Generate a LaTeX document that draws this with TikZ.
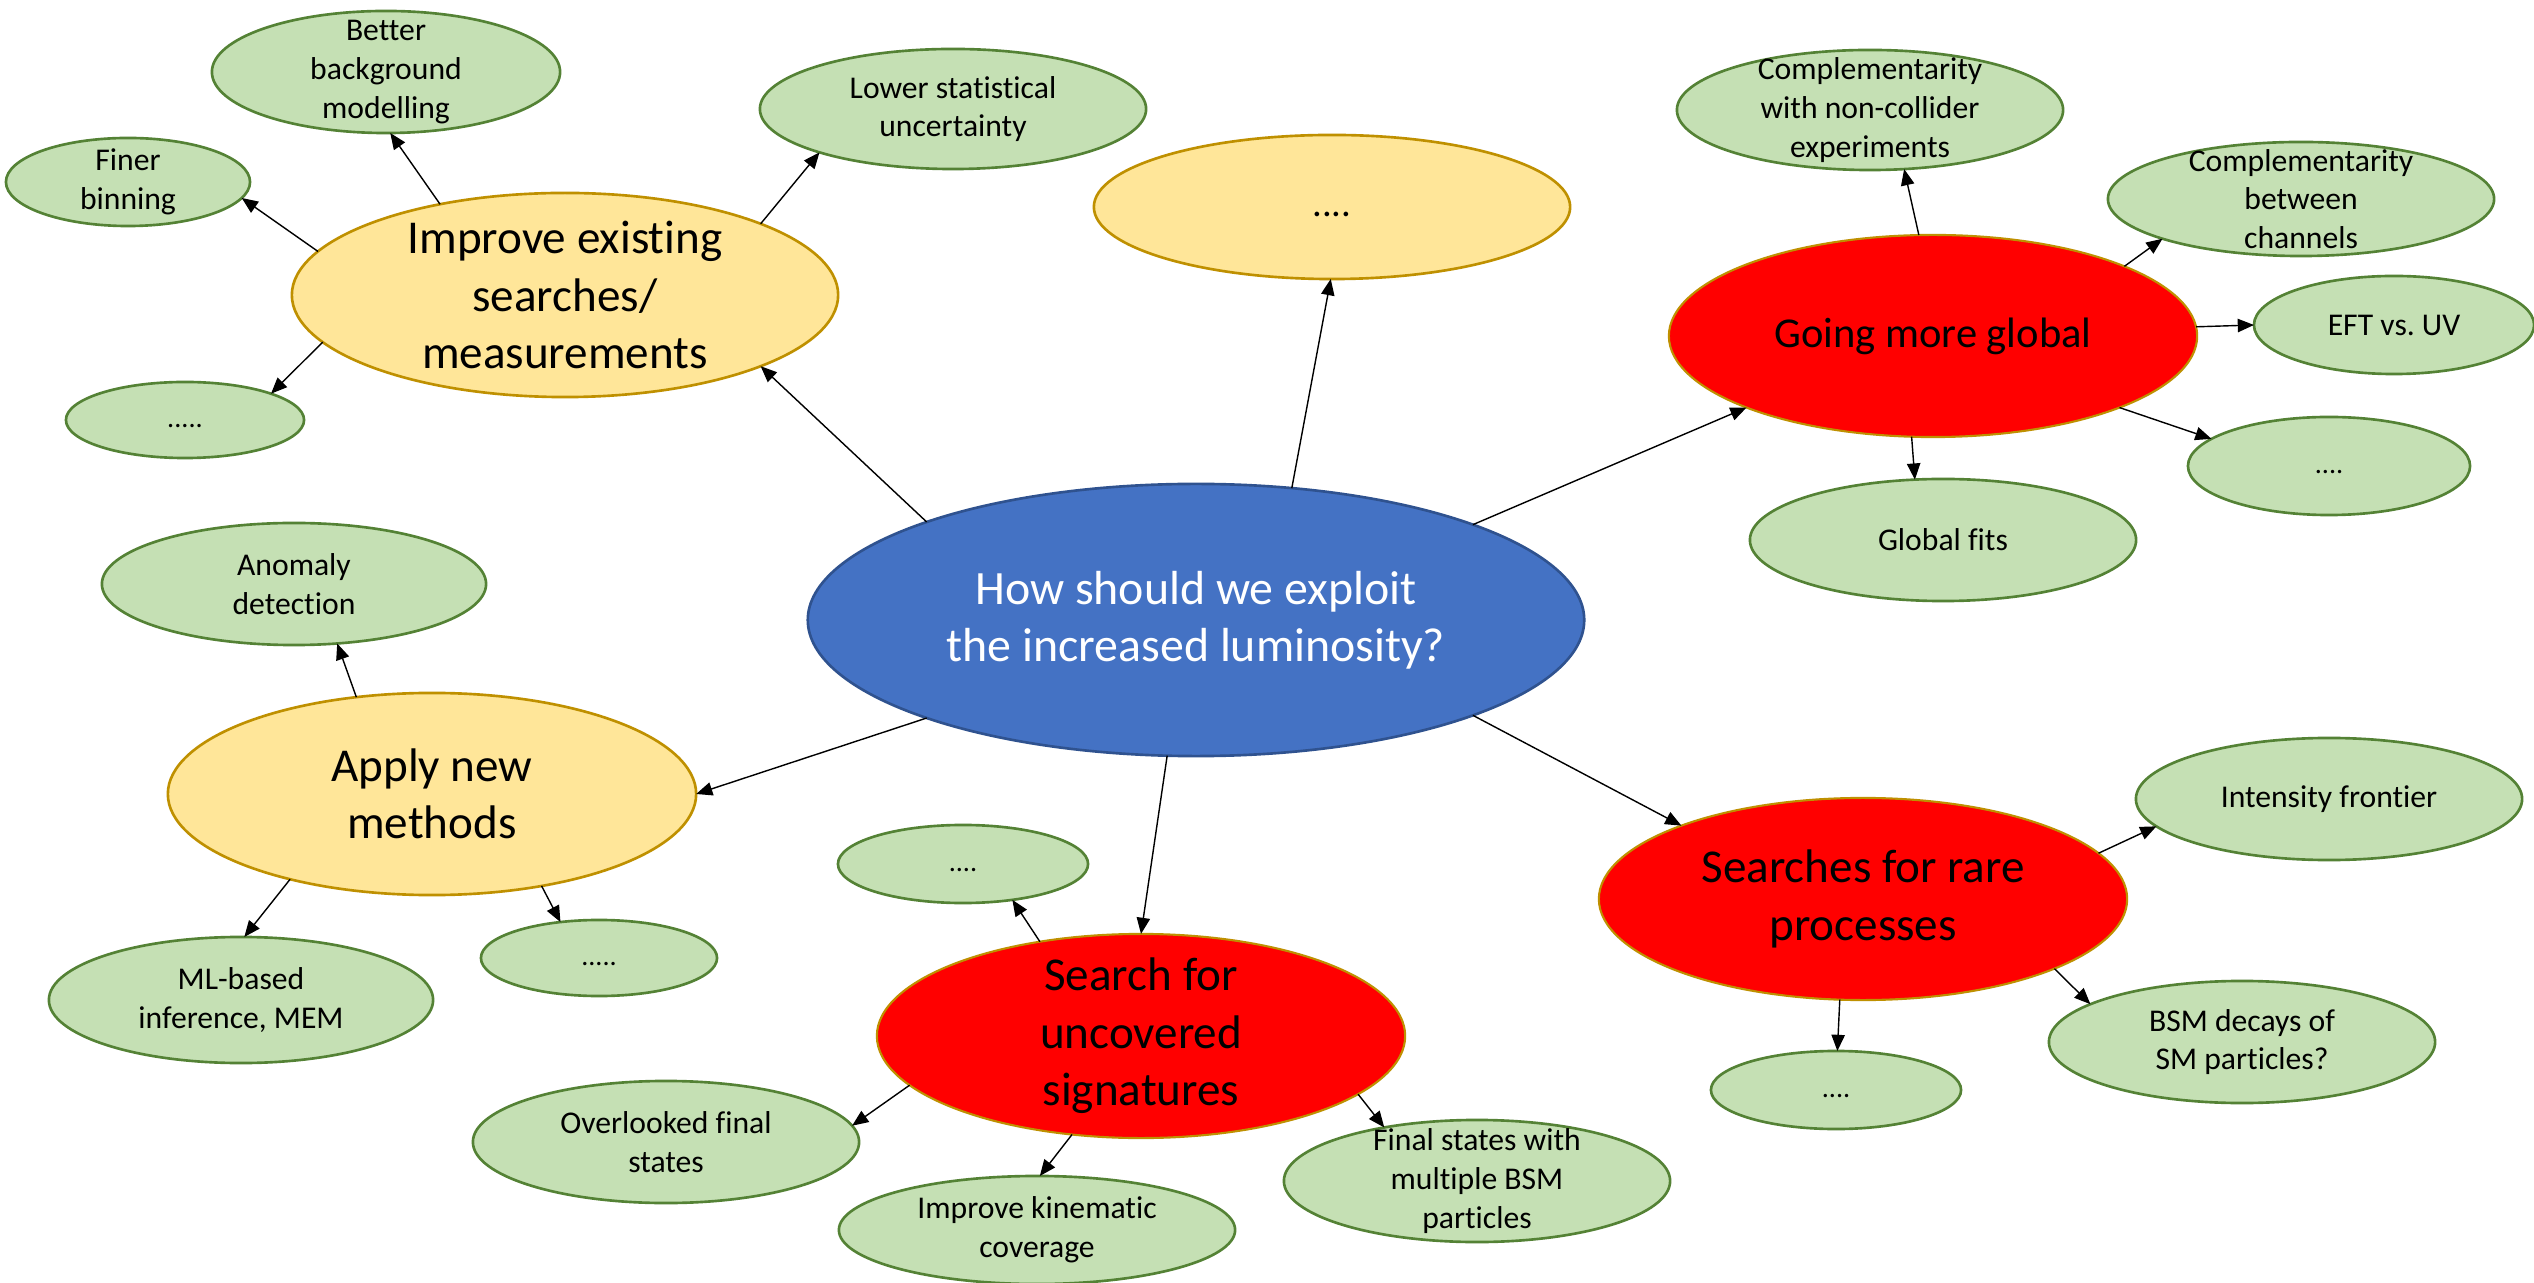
\documentclass[tikz,border=0pt]{standalone}
\usepackage{fontspec}
\setmainfont{Carlito}[Ligatures=NoCommon]
\usetikzlibrary{arrows.meta,shapes.geometric}
\frenchspacing

\definecolor{leaffill}{HTML}{C5E0B4}
\definecolor{leafedge}{HTML}{548235}
\definecolor{goldfill}{HTML}{FFE699}
\definecolor{goldedge}{HTML}{BF9000}
\definecolor{bluefill}{HTML}{4472C4}
\definecolor{blueedge}{HTML}{2F528F}
\definecolor{redfill}{HTML}{FF0000}

\begin{document}
\begin{tikzpicture}[x=0.01cm,y=-0.01cm,
  bubble/.style={ellipse, inner sep=-40pt, outer sep=0pt, align=center},
  leaf/.style={bubble, fill=leaffill, draw=leafedge, line width=0.75pt,
    font=\fontsize{9}{11}\selectfont},
  dots/.style={leaf, font=\fontsize{8}{11}\selectfont},
  topic/.style={bubble, fill=goldfill, draw=goldedge, line width=0.75pt,
    font=\fontsize{13.4}{16.3}\selectfont},
  hot/.style={bubble, fill=redfill, draw=goldedge, line width=0.6pt,
    font=\fontsize{13.4}{16.3}\selectfont},
  core/.style={bubble, fill=bluefill, draw=blueedge, line width=0.75pt,
    text=white, font=\fontsize{13.6}{16.3}\selectfont},
  sz/.style 2 args={minimum width=#1, minimum height=#2},
  link/.style={draw=black, line width=0.4pt, -{Triangle[length=4.6pt,width=3.8pt]}}
]
\useasboundingbox[fill=white] (0,0) rectangle (2534,1283);

% central question
\node[core, sz={7.76cm}{2.72cm}] (cent) at (1196,620) {How should we exploit\\the increased luminosity?};

% main branches
\node[topic, sz={4.76cm}{1.44cm}, font=\fontsize{11}{13.4}\selectfont] (dtop) at (1332,207) {\strut....};
\node[topic, sz={5.46cm}{2.04cm}] (impr) at (565,295) {Improve existing\\searches/\\measurements};
\node[topic, sz={5.28cm}{2.02cm}] (appl) at (432,794) {Apply new\\methods};
\node[hot, sz={5.28cm}{2.02cm}, font=\fontsize{12.1}{14.7}\selectfont] (glob) at (1933,336) {Going more global};
\node[hot, sz={5.28cm}{2.04cm}] (srch) at (1141,1036) {Search for\\uncovered\\signatures};
\node[hot, sz={5.28cm}{2.02cm}] (rare) at (1863,899) {Searches for rare\\processes};

% leaves of "Improve existing searches"
\node[leaf, sz={3.48cm}{1.22cm}] (bbm) at (386,72) {Better\\background\\modelling};
\node[leaf, sz={2.44cm}{0.88cm}] (fine) at (128,182) {Finer\\binning};
\node[leaf, sz={3.86cm}{1.20cm}] (lstat) at (953,109) {Lower statistical\\uncertainty};
\node[dots, sz={2.38cm}{0.76cm}] (dl1) at (185,420) {\strut.....};

% leaves of "Going more global"
\node[leaf, sz={3.86cm}{1.20cm}] (cnc) at (1870,110) {Complementarity\\with non-collider\\experiments};
\node[leaf, sz={3.86cm}{1.14cm}] (cbc) at (2301,199) {Complementarity\\between\\channels};
\node[leaf, sz={2.80cm}{0.98cm}] (eft) at (2394,325) {EFT vs. UV};
\node[dots, sz={2.82cm}{0.98cm}] (dr1) at (2329,466) {\strut....};
\node[leaf, sz={3.86cm}{1.22cm}] (gfit) at (1943,540) {Global fits};

% leaves of "Apply new methods"
\node[leaf, sz={3.84cm}{1.22cm}] (anom) at (294,584) {Anomaly\\detection};
\node[leaf, sz={3.84cm}{1.26cm}] (mlb) at (241,1000) {ML-based\\inference, MEM};
\node[dots, sz={2.36cm}{0.76cm}] (dl2) at (599,958) {\strut.....};

% leaves of "Search for uncovered signatures"
\node[dots, sz={2.50cm}{0.78cm}] (dsr) at (963,864) {\strut....};
\node[leaf, sz={3.86cm}{1.22cm}] (over) at (666,1142) {Overlooked final\\states};
\node[leaf, sz={3.96cm}{1.08cm}] (kine) at (1037,1230) {Improve kinematic\\coverage};
\node[leaf, sz={3.86cm}{1.22cm}] (fsm) at (1477,1181) {Final states with\\multiple BSM\\particles};

% leaves of "Searches for rare processes"
\node[leaf, sz={3.86cm}{1.22cm}] (intf) at (2329,799) {Intensity frontier};
\node[leaf, sz={3.86cm}{1.22cm}] (bsmd) at (2242,1042) {BSM decays of\\SM particles?};
\node[dots, sz={2.50cm}{0.78cm}] (dbt) at (1836,1090) {\strut....};

% connectors from the central question
\draw[link] (cent.160.6) -- (impr.-20.5);
\draw[link] (cent.54.9) -- (dtop.-91);
\draw[link] (cent.19.2) -- (glob.-159);
\draw[link] (cent.-19.2) -- (rare.158.7);
\draw[link] (cent.-102) -- (srch.90);
\draw[link] (cent.-160.7) -- (appl.0);

% connectors to the leaves
\draw[link] (impr.144.5) -- (bbm.-86);
\draw[link] (impr.170.7) -- (fine.-8);
\draw[link] (impr.20.5) -- (lstat.-162.3);
\draw[link] (impr.-169.9) -- (dl1.17.6);

\draw[link] (glob.98.8) -- (cnc.-60.6);
\draw[link] (glob.20.8) -- (cbc.-164.6);
\draw[link] (glob.2.8) -- (eft.180);
\draw[link] (glob.-21.2) -- (dr1.167);
\draw[link] (glob.-102) -- (gfit.115);

\draw[link] (appl.128.9) -- (anom.-54.9);
\draw[link] (appl.-149.3) -- (mlb.87);
\draw[link] (appl.-40) -- (dl2.137);

\draw[link] (srch.137.9) -- (dsr.-36.5);
\draw[link] (srch.-168.2) -- (over.5.1);
\draw[link] (srch.-125) -- (kine.87);
\draw[link] (srch.-15.9) -- (fsm.150);

\draw[link] (rare.11.3) -- (intf.-171.9);
\draw[link] (rare.-20.9) -- (bsmd.166.9);
\draw[link] (rare.-103.4) -- (dbt.88.6);
\end{tikzpicture}
\end{document}
